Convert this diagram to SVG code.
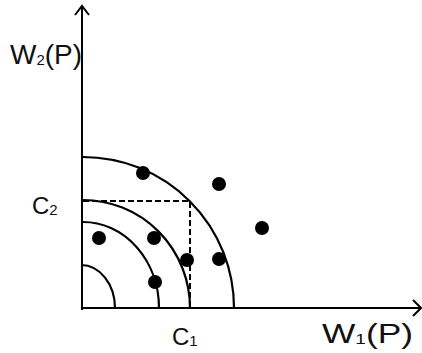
<svg xmlns="http://www.w3.org/2000/svg" width="422" height="353" viewBox="0 0 422 353">
<style>
.ax{fill:none;stroke:#000;stroke-width:2}
.arc{fill:none;stroke:#000;stroke-width:2.2}
.dash{fill:none;stroke:#000;stroke-width:2;stroke-dasharray:6 3}
.dot{fill:#000}
.lbl{font-family:"Liberation Sans",Arial,sans-serif;fill:#111}
.sub{font-size:15px}
</style>
<rect width="422" height="353" fill="#fff"/>
<g id="connectors">
<path class="ax" d="M82,310 V6 M75,15 L82,6 L89,15"/>
<path class="ax" d="M81,308 H421 M413,300 L421,308 L413,316"/>
<path class="arc" d="M81,265 A34,43 0 0 1 115,308"/>
<path class="arc" d="M83,222 A76,86 0 0 1 159,308"/>
<path class="arc" d="M83,200 A107,108 0 0 1 190,308"/>
<path class="arc" d="M83,157 A151,151 0 0 1 234,308"/>
<path class="dash" d="M83,201 H190 V308"/>
</g>
<g id="points">
<circle class="dot" cx="143" cy="173" r="7"/>
<circle class="dot" cx="219" cy="184" r="7"/>
<circle class="dot" cx="262" cy="228" r="7"/>
<circle class="dot" cx="99" cy="238" r="7"/>
<circle class="dot" cx="154" cy="238" r="7"/>
<circle class="dot" cx="187" cy="260" r="7"/>
<circle class="dot" cx="219" cy="259" r="7"/>
<circle class="dot" cx="155" cy="282" r="7"/>
</g>
<g id="labels">
<text id="w2" class="lbl" x="10" y="64" font-size="28" textLength="72" lengthAdjust="spacingAndGlyphs">W<tspan class="sub" dy="1">2</tspan><tspan dy="-1">(P)</tspan></text>
<text id="w1" class="lbl" x="322" y="343" font-size="28" textLength="91" lengthAdjust="spacingAndGlyphs">W<tspan class="sub" dy="1">1</tspan><tspan dy="-1">(P)</tspan></text>
<text id="c2" class="lbl" x="32" y="214" font-size="24">C<tspan class="sub" dy="1">2</tspan></text>
<text id="c1" class="lbl" x="172" y="345" font-size="24">C<tspan class="sub" dy="1">1</tspan></text>
</g>
</svg>
